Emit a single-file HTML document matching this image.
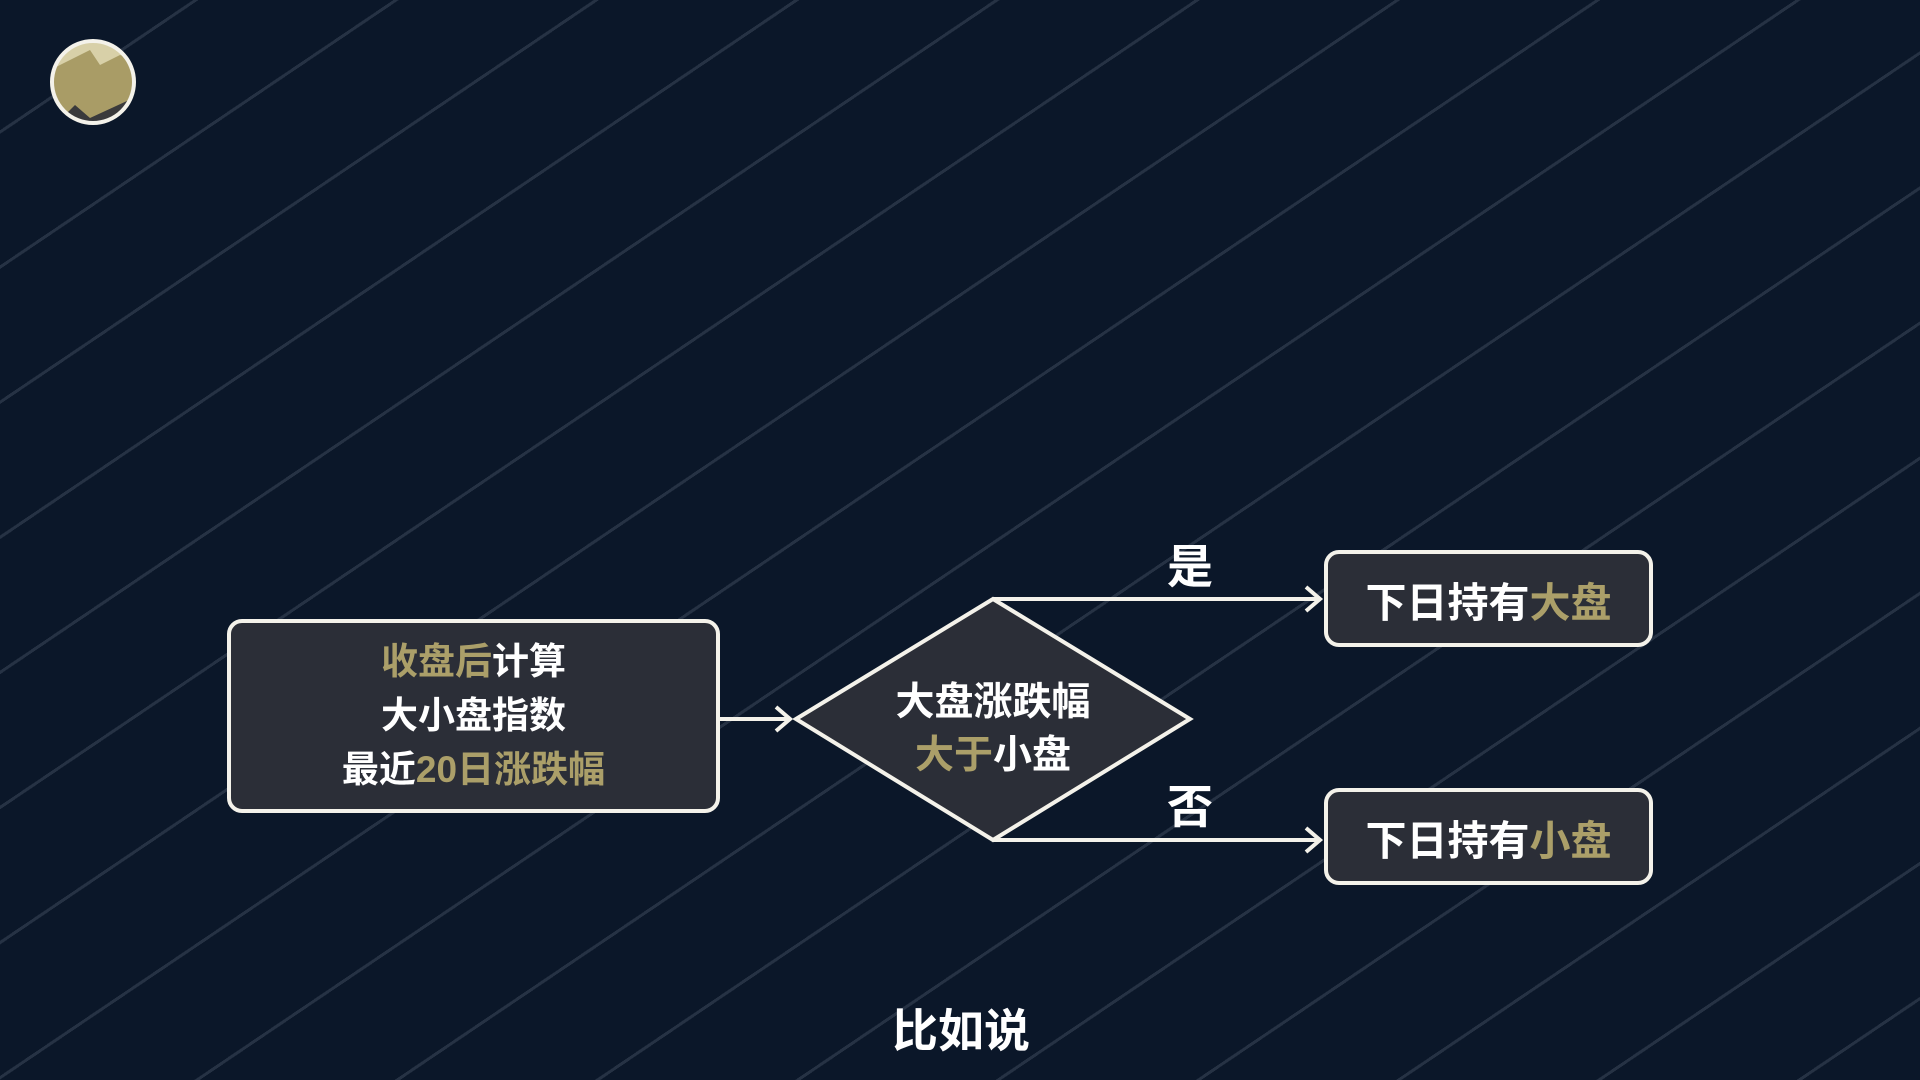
<!DOCTYPE html>
<html><head><meta charset="utf-8"><style>
html,body{margin:0;padding:0;}
body{width:1920px;height:1080px;overflow:hidden;position:relative;
background:#0b1729;
background-image:repeating-linear-gradient(146deg,transparent 0 108px,#263244 108px 111px,transparent 111px 112px);
font-family:"Liberation Sans","Noto Sans CJK SC",sans-serif;font-weight:bold;color:#fff;}
.box{position:absolute;background:#2b2e37;border:4px solid #f4f2ea;border-radius:15px;box-sizing:border-box;display:flex;flex-direction:column;align-items:center;justify-content:center;text-align:center}
.g{color:#ab9f69}
.t{position:absolute;transform:translate(-50%,-50%);white-space:nowrap}
</style></head><body>
<svg width="1920" height="1080" style="position:absolute;left:0;top:0">
<defs><clipPath id="c"><circle cx="93" cy="82" r="40"/></clipPath></defs>
<circle cx="93" cy="82" r="40" fill="#a99c66"/>
<g clip-path="url(#c)">
<polygon points="50,70 90,50 100,65 120,55 140,60 140,20 50,20" fill="#d8d0a8"/>
<polygon points="50,130 75,105 90,118 140,95 140,130" fill="#3a3a3c"/>
</g>
<circle cx="93" cy="82" r="41" fill="none" stroke="#f4f2ea" stroke-width="4"/>
<polygon points="796,719 993,599 1190,719 993,840" fill="#2b2e37" stroke="#f4f2ea" stroke-width="4"/>
<g stroke="#f4f2ea" stroke-width="4" fill="none">
<line x1="719" y1="719" x2="790" y2="719"/>
<polyline points="776,707 790,719 776,731"/>
<line x1="993" y1="599" x2="1320" y2="599"/>
<polyline points="1306,587 1320,599 1306,611"/>
<line x1="993" y1="840" x2="1320" y2="840"/>
<polyline points="1306,828 1320,840 1306,852"/>
</g>
</svg>
<div class="box" style="left:227px;top:619px;width:493px;height:194px;font-size:37px;line-height:54px">
<div><span class="g">收盘后</span>计算</div><div>大小盘指数</div><div>最近<span class="g">20日涨跌幅</span></div></div>
<div class="t" style="left:993px;top:699px;font-size:39px">大盘涨跌幅</div>
<div class="t" style="left:993px;top:752px;font-size:39px"><span class="g">大于</span>小盘</div>
<div class="t" style="left:1190px;top:564px;font-size:46px">是</div>
<div class="t" style="left:1190px;top:804px;font-size:46px">否</div>
<div class="box" style="left:1324px;top:550px;width:329px;height:97px;font-size:41px">
<div>下日持有<span class="g">大盘</span></div></div>
<div class="box" style="left:1324px;top:788px;width:329px;height:97px;font-size:41px">
<div>下日持有<span class="g">小盘</span></div></div>
<div class="t" style="left:961px;top:1028px;font-size:46px">比如说</div>
</body></html>
